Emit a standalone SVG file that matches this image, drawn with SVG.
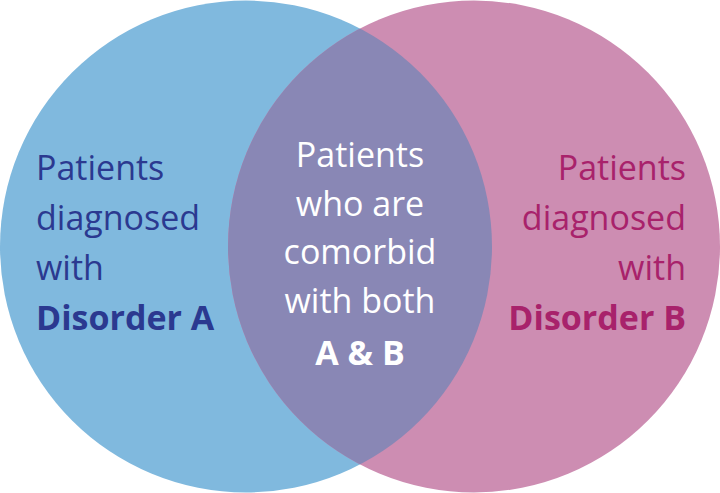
<svg xmlns="http://www.w3.org/2000/svg" width="720" height="493" viewBox="0 0 720 493">
<style>
text{font-family:"Open Sans","Noto Sans",sans-serif;font-size:34px}
.l{fill:#2b3990}.r{fill:#a8226b;text-anchor:end}.c{fill:#fff;text-anchor:middle}
.b{font-weight:bold}
</style>
<defs><clipPath id="cl"><circle cx="246" cy="246.5" r="246"/></clipPath></defs>
<rect width="720" height="493" fill="#fff"/>
<g id="circleA"><circle cx="246" cy="246.5" r="246" fill="#80b9de"/></g>
<g id="circleB"><circle cx="474" cy="246.5" r="246" fill="#cd8db2"/></g>
<g id="overlap"><circle cx="474" cy="246.5" r="246" fill="#8987b5" clip-path="url(#cl)"/></g>
<g id="connectors"/>
<g id="labelA">
<text class="l" x="36" y="180">Patients</text>
<text class="l" x="36" y="230">diagnosed</text>
<text class="l" x="36" y="280">with</text>
<text class="l b" x="36" y="330">Disorder A</text>
</g>
<g id="labelB">
<text class="r" x="686" y="180">Patients</text>
<text class="r" x="686" y="230">diagnosed</text>
<text class="r" x="686" y="280">with</text>
<text class="r b" x="686" y="330">Disorder B</text>
</g>
<g id="labelAB">
<text class="c" x="360" y="167">Patients</text>
<text class="c" x="360" y="216">who are</text>
<text class="c" x="360" y="264">comorbid</text>
<text class="c" x="360" y="313">with both</text>
<text class="c b" x="360" y="365">A &amp; B</text>
</g>
</svg>
